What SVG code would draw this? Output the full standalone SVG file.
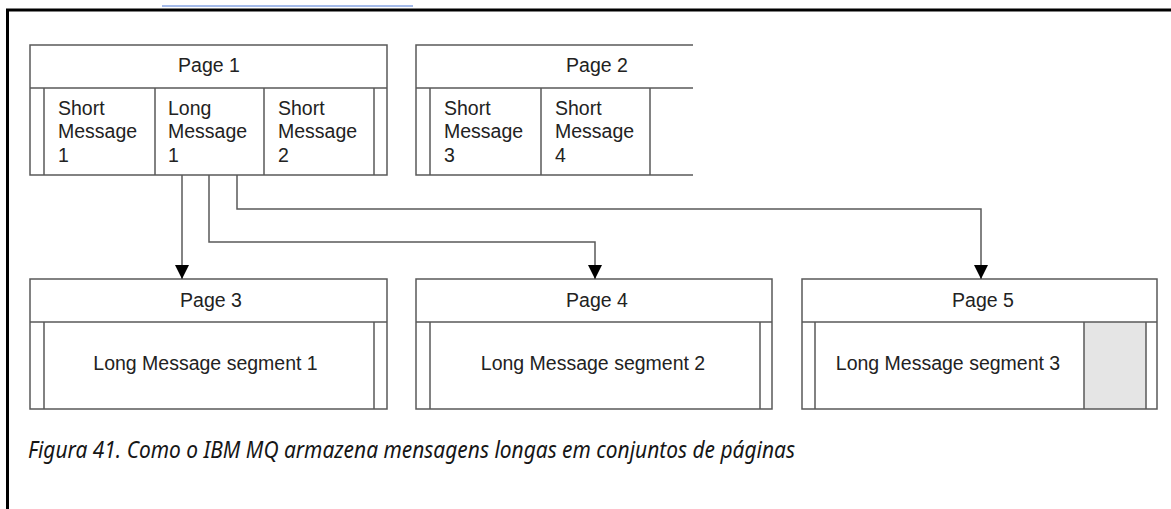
<svg xmlns="http://www.w3.org/2000/svg" width="1171" height="509" viewBox="0 0 1171 509">
<style>
.bx{fill:none;stroke:#5a5a5a;stroke-width:1.5}
.t{font-family:"Liberation Sans",Arial,sans-serif;font-size:19.5px;fill:#222}
.c{text-anchor:middle}
.cn{fill:none;stroke:#5a5a5a;stroke-width:1.5}
.cap{font-family:"Noto Sans","Open Sans",sans-serif;font-style:italic;font-size:23.5px;fill:#161616}
</style>
<defs>
<marker id="ah" markerUnits="userSpaceOnUse" markerWidth="14" markerHeight="14" refX="14" refY="7" orient="auto">
<path d="M0,0 L14,7 L0,14 z" fill="#000"/>
</marker>
</defs>
<rect width="1171" height="509" fill="#fff"/>
<line x1="162" y1="6" x2="413" y2="6" stroke="#4a77d4" stroke-width="1"/>
<path d="M7.5,509 V10 H1171" fill="none" stroke="#000" stroke-width="3"/>

<g id="page1">
<path class="bx" d="M30,45 H387 V175 H30 Z M30,88 H387 M44,88 V175 M155,88 V175 M264,88 V175 M374,88 V175"/>
<text class="t c" x="209" y="72">Page 1</text>
<text class="t" x="58" y="115">Short</text>
<text class="t" x="58" y="138">Message</text>
<text class="t" x="58" y="162">1</text>
<text class="t" x="168" y="115">Long</text>
<text class="t" x="168" y="138">Message</text>
<text class="t" x="168" y="162">1</text>
<text class="t" x="278" y="115">Short</text>
<text class="t" x="278" y="138">Message</text>
<text class="t" x="278" y="162">2</text>
</g>

<g id="page2">
<path class="bx" d="M693,45 H416 V175 H693 M416,88 H693 M430,88 V175 M541,88 V175 M650,88 V175"/>
<text class="t c" x="597" y="72">Page 2</text>
<text class="t" x="444" y="115">Short</text>
<text class="t" x="444" y="138">Message</text>
<text class="t" x="444" y="162">3</text>
<text class="t" x="555" y="115">Short</text>
<text class="t" x="555" y="138">Message</text>
<text class="t" x="555" y="162">4</text>
</g>

<g id="page3">
<path class="bx" d="M30,279 H387 V409 H30 Z M30,322 H387 M44,322 V409 M374,322 V409"/>
<text class="t c" x="211" y="307">Page 3</text>
<text class="t c" x="205.5" y="370">Long Message segment 1</text>
</g>

<g id="page4">
<path class="bx" d="M416,279 H772 V409 H416 Z M416,322 H772 M430,322 V409 M760,322 V409"/>
<text class="t c" x="597" y="307">Page 4</text>
<text class="t c" x="593" y="370">Long Message segment 2</text>
</g>

<g id="page5">
<rect x="1084" y="322" width="62" height="87" fill="#e5e5e5"/>
<path class="bx" d="M802,279 H1157 V409 H802 Z M802,322 H1157 M815,322 V409 M1084,322 V409 M1146,322 V409"/>
<text class="t c" x="983" y="307">Page 5</text>
<text class="t c" x="948" y="370">Long Message segment 3</text>
</g>

<g id="connectors">
<path class="cn" d="M182,175 V279" marker-end="url(#ah)"/>
<path class="cn" d="M209,175 V242 H595 V279" marker-end="url(#ah)"/>
<path class="cn" d="M237,175 V209 H981 V279" marker-end="url(#ah)"/>
</g>

<text class="cap" x="28" y="458" textLength="767" lengthAdjust="spacingAndGlyphs">Figura 41. Como o IBM MQ armazena mensagens longas em conjuntos de páginas</text>
</svg>
